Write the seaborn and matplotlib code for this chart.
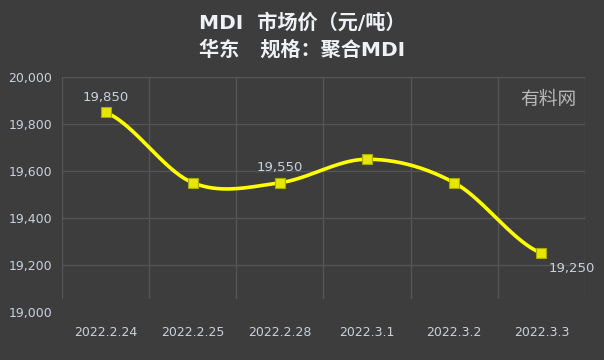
import numpy as np
import pandas as pd
import matplotlib
matplotlib.use("Agg")
import matplotlib.pyplot as plt
import seaborn as sns
from matplotlib.ticker import FuncFormatter, FixedLocator

dates = ["2022.2.24", "2022.2.25", "2022.2.28", "2022.3.1", "2022.3.2", "2022.3.3"]
prices = [19850, 19550, 19550, 19650, 19550, 19250]
labeled = [0, 2, 5]
y_ticks = [19000, 19200, 19400, 19600, 19800, 20000]

sns.set_style("dark")
plt.rcParams['font.family'] = ['DejaVu Sans', 'Noto Sans CJK SC']

BG = "#3d3d3d"
GRID = "#555555"
TXT = "#c9d1dc"

fig = plt.figure(figsize=(6.04, 3.6), dpi=100, facecolor=BG)
ax = fig.add_axes([62/604, 1-312/360, (585-62)/604, (312-77)/360])
ax.set_facecolor(BG)

df = pd.DataFrame({"date": dates, "price": prices, "x": np.arange(len(dates))})

# smooth rendering (Catmull-Rom) of the series
xs = df["x"].to_numpy(float)
ys = df["price"].to_numpy(float)
px = np.concatenate([[2*xs[0]-xs[1]], xs, [2*xs[-1]-xs[-2]]])
py = np.concatenate([[ys[0]], ys, [ys[-1]]])
cx, cy = [], []
for i in range(1, len(px)-2):
    t = np.linspace(0, 1, 40)
    p0, p1, p2, p3 = py[i-1], py[i], py[i+1], py[i+2]
    q0, q1, q2, q3 = px[i-1], px[i], px[i+1], px[i+2]
    f = lambda a0, a1, a2, a3: 0.5*((2*a1) + (-a0+a2)*t + (2*a0-5*a1+4*a2-a3)*t**2 + (-a0+3*a1-3*a2+a3)*t**3)
    cx.append(f(q0, q1, q2, q3)); cy.append(f(p0, p1, p2, p3))
cx = np.concatenate(cx); cy = np.concatenate(cy)
ax.plot(cx, cy, color="#ffff00", lw=2.6, zorder=3, solid_capstyle="round")

sns.scatterplot(data=df, x="x", y="price", ax=ax, marker="s", s=55,
                color="#e6e600", edgecolor="#a8a800", linewidth=0.8, zorder=4)

ax.set_xlim(-0.5, len(dates)-0.5)
ax.set_ylim(19000, 20000)
ax.set_xticks(range(len(dates)))
ax.set_xticklabels(dates)
ax.set_yticks(y_ticks)
ax.yaxis.set_major_formatter(FuncFormatter(lambda v, p: f"{int(v):,}"))
ax.set_xlabel(""); ax.set_ylabel("")

ax.grid(False)
for yv in y_ticks[1:]:
    ax.axhline(yv, color=GRID, lw=1, zorder=1)
for xv in np.arange(-0.5, len(dates), 1.0):
    ax.plot([xv, xv], [19060, 20000], color=GRID, lw=1, zorder=1)

for s in ax.spines.values():
    s.set_visible(False)
ax.tick_params(axis="both", which="both", length=0, colors=TXT, labelsize=9)
ax.tick_params(axis="x", pad=10)
ax.tick_params(axis="y", pad=7)

for i in labeled:
    if i == len(dates)-1:
        ax.annotate(f"{prices[i]:,}", (i, prices[i]), xytext=(5, -6), textcoords="offset points",
                    ha="left", va="top", color=TXT, fontsize=9.5)
    else:
        ax.annotate(f"{prices[i]:,}", (i, prices[i]), xytext=(0, 6), textcoords="offset points",
                    ha="center", va="bottom", color=TXT, fontsize=9.5)

ax.text(0.929, 0.905, "有料网", transform=ax.transAxes, ha="center", va="center",
        color="#b8b8b8", fontsize=13.5, family=['Noto Sans CJK SC'])

fig.text(0.5, 1-23/360, "MDI  市场价（元/吨）", ha="center", va="center",
         color="#eef2f6", fontsize=14.5, fontweight="bold")
fig.text(0.5, 1-50/360, "华东   规格：聚合MDI", ha="center", va="center",
         color="#eef2f6", fontsize=14.5, fontweight="bold")

fig.savefig("out.png", dpi=100, facecolor=BG)
